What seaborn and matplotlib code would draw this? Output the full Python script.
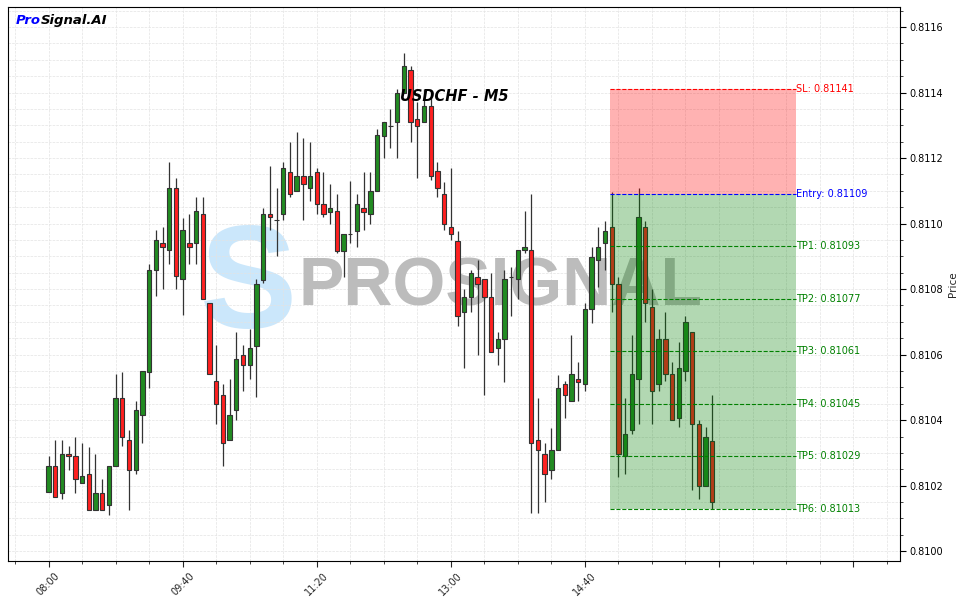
import numpy as np
import pandas as pd
import matplotlib
matplotlib.use("Agg")
import matplotlib.pyplot as plt
import seaborn as sns
from matplotlib.ticker import MultipleLocator, FixedLocator, FuncFormatter

# ---------------- data ----------------
title_text = "USDCHF - M5"
opens = [0.810180, 0.810260, 0.810179, 0.810298, 0.810289, 0.810207, 0.810237, 0.810127, 0.810179, 0.810140,
         0.810259, 0.810469, 0.810338, 0.810249, 0.810417, 0.810548, 0.810858, 0.810940, 0.810919, 0.811108,
         0.810830, 0.810940, 0.810940, 0.811029, 0.810759, 0.810519, 0.810478, 0.810339, 0.810431, 0.810598,
         0.810568, 0.810627, 0.810827, 0.811028, 0.811010, 0.811028, 0.811158, 0.811099, 0.811146, 0.811108,
         0.811158, 0.811059, 0.811036, 0.811038, 0.810917, 0.810968, 0.810978, 0.811049, 0.811028, 0.811099,
         0.811268, 0.811299, 0.811309, 0.811398, 0.811469, 0.811318, 0.811309, 0.811359, 0.811160, 0.811089,
         0.810988, 0.810947, 0.810729, 0.810776, 0.810838, 0.810830, 0.810776, 0.810619, 0.810648, 0.810838,
         0.810830, 0.810918, 0.810918, 0.810339, 0.810298, 0.810249, 0.810308, 0.810510, 0.810458, 0.810527,
         0.810509, 0.810738, 0.810889, 0.810940, 0.810988, 0.810817, 0.810290, 0.810369, 0.810527, 0.810988,
         0.810746, 0.810509, 0.810649, 0.810540, 0.810407, 0.810550, 0.810668, 0.810387, 0.810198, 0.810337]
highs = [0.810290, 0.810339, 0.810339, 0.810321, 0.810347, 0.810329, 0.810318, 0.810298, 0.810219, 0.810259,
         0.810540, 0.810548, 0.810369, 0.810458, 0.810550, 0.810878, 0.810980, 0.810988, 0.811189, 0.811138,
         0.811018, 0.811029, 0.811080, 0.811080, 0.810759, 0.810629, 0.810509, 0.810527, 0.810668, 0.810629,
         0.810677, 0.810830, 0.811049, 0.811176, 0.811108, 0.811189, 0.811248, 0.811278, 0.811260, 0.811248,
         0.811169, 0.811158, 0.811120, 0.811089, 0.810968, 0.811130, 0.811089, 0.811158, 0.811158, 0.811288,
         0.811309, 0.811349, 0.811410, 0.811520, 0.811481, 0.811372, 0.811410, 0.811398, 0.811189, 0.811128,
         0.811169, 0.810978, 0.810799, 0.810858, 0.810889, 0.810830, 0.810848, 0.810668, 0.810858, 0.810868,
         0.810918, 0.811038, 0.811089, 0.810468, 0.810329, 0.810376, 0.810537, 0.810519, 0.810660, 0.810578,
         0.810758, 0.810927, 0.810988, 0.811009, 0.811097, 0.810838, 0.810468, 0.810660, 0.811108, 0.811009,
         0.810799, 0.810677, 0.810729, 0.810578, 0.810637, 0.810718, 0.810668, 0.810400, 0.810378, 0.810478]
lows = [0.810180, 0.810166, 0.810159, 0.810249, 0.810179, 0.810207, 0.810127, 0.810127, 0.810127, 0.810110,
        0.810259, 0.810321, 0.810127, 0.810235, 0.810329, 0.810497, 0.810779, 0.810799, 0.810878, 0.810799,
        0.810721, 0.810878, 0.810878, 0.810769, 0.810540, 0.810387, 0.810260, 0.810339, 0.810400, 0.810489,
        0.810527, 0.810471, 0.810820, 0.810980, 0.810901, 0.811011, 0.811082, 0.811099, 0.811011, 0.811069,
        0.811028, 0.811021, 0.810998, 0.810909, 0.810838, 0.810940, 0.810927, 0.810980, 0.810998, 0.811099,
        0.811199, 0.811230, 0.811199, 0.811398, 0.811250, 0.811138, 0.811309, 0.811133, 0.811080, 0.810980,
        0.810950, 0.810688, 0.810558, 0.810729, 0.810598, 0.810478, 0.810609, 0.810568, 0.810517, 0.810718,
        0.810769, 0.810909, 0.810118, 0.810118, 0.810151, 0.810220, 0.810308, 0.810407, 0.810458, 0.810458,
        0.810489, 0.810697, 0.810807, 0.810858, 0.810729, 0.810227, 0.810237, 0.810359, 0.810387, 0.810698,
        0.810387, 0.810489, 0.810519, 0.810400, 0.810378, 0.810519, 0.810188, 0.810158, 0.810198, 0.810128]
closes = [0.810260, 0.810166, 0.810298, 0.810289, 0.810220, 0.810228, 0.810127, 0.810179, 0.810127, 0.810259,
          0.810469, 0.810347, 0.810249, 0.810430, 0.810550, 0.810858, 0.810950, 0.810927, 0.811108, 0.810840,
          0.810980, 0.810927, 0.811038, 0.810769, 0.810540, 0.810448, 0.810329, 0.810417, 0.810588, 0.810568,
          0.810619, 0.810817, 0.811028, 0.811019, 0.811010, 0.811169, 0.811089, 0.811146, 0.811120, 0.811146,
          0.811059, 0.811028, 0.811049, 0.810917, 0.810968, 0.810968, 0.811059, 0.811036, 0.811099, 0.811269,
          0.811309, 0.811299, 0.811398, 0.811481, 0.811309, 0.811299, 0.811359, 0.811146, 0.811108, 0.810998,
          0.810967, 0.810718, 0.810776, 0.810848, 0.810817, 0.810776, 0.810609, 0.810648, 0.810830, 0.810838,
          0.810918, 0.810927, 0.810329, 0.810308, 0.810237, 0.810308, 0.810497, 0.810478, 0.810540, 0.810517,
          0.810738, 0.810899, 0.810927, 0.810978, 0.810817, 0.810298, 0.810359, 0.810540, 0.811019, 0.810759,
          0.810489, 0.810649, 0.810540, 0.810400, 0.810558, 0.810698, 0.810387, 0.810198, 0.810347, 0.810149]

tick_positions = [0, 20, 40, 60, 80, 100, 120]
tick_labels = ["08:00", "09:40", "11:20", "13:00", "14:40", "", ""]

entry_price = 0.81109
stop_loss = 0.81141
take_profits = [0.81093, 0.81077, 0.81061, 0.81045, 0.81029, 0.81013]
tp_names = ["TP1", "TP2", "TP3", "TP4", "TP5", "TP6"]

# ---------------- style ----------------
sns.set_theme(style="white")
plt.rcParams["font.family"] = ["DejaVu Sans"]

df = pd.DataFrame({"open": opens, "high": highs, "low": lows, "close": closes})
df["pos"] = np.arange(len(df))
df["up"] = df["close"] >= df["open"]
df["bottom"] = df[["open", "close"]].min(axis=1)
df["height"] = (df["close"] - df["open"]).abs()

fig = plt.figure(figsize=(9.63, 6.03), dpi=100)
ax = fig.add_axes([8 / 963, 42 / 603, 892 / 963, 554 / 603])

# watermark
ax.text(0.27, 0.49, "S", transform=ax.transAxes, fontsize=105, fontweight="bold",
        family="Liberation Sans", color="#cbe7fb", ha="center", va="center", zorder=0.5)
ax.text(0.552, 0.493, "PROSIGNAL", transform=ax.transAxes, fontsize=49, fontweight="bold",
        family="Liberation Sans", color="#bcbcbc", ha="center", va="center", zorder=0.6)

# candles
ax.vlines(df["pos"], df["low"], df["high"], color="#333333", linewidth=0.9, zorder=2)
colors = np.where(df["up"], "#228b22", "#ff2020")
ax.bar(df["pos"], df["height"], bottom=df["bottom"], width=0.65, color=colors,
       edgecolor="#333333", linewidth=0.8, zorder=3)

# trade box
x0, x1 = 83.7, 111.5
ax.fill_between([x0, x1], entry_price, stop_loss, color="red", alpha=0.3, linewidth=0, zorder=4)
ax.fill_between([x0, x1], take_profits[-1], entry_price, color="green", alpha=0.3, linewidth=0, zorder=4)
ax.hlines(stop_loss, x0, x1, colors="red", linestyles="--", linewidth=0.8, zorder=5)
ax.text(x1, stop_loss, f"SL: {stop_loss:.5f}", color="red", fontsize=7, va="center", ha="left", zorder=6)
ax.hlines(entry_price, x0, x1, colors="blue", linestyles="--", linewidth=0.8, zorder=5)
ax.text(x1, entry_price, f"Entry: {entry_price:.5f}", color="blue", fontsize=7, va="center", ha="left", zorder=6)
for name, tp in zip(tp_names, take_profits):
    ax.hlines(tp, x0, x1, colors="green", linestyles="--", linewidth=0.8, zorder=5)
    ax.text(x1, tp, f"{name}: {tp:.5f}", color="green", fontsize=7, va="center", ha="left", zorder=6)

# axes
ax.set_xlim(-6.05, 127)
ax.set_ylim(0.809970, 0.811661)
ax.yaxis.tick_right()
ax.yaxis.set_label_position("right")
ax.set_ylabel("Price", fontsize=7.5, labelpad=3)
ax.yaxis.set_major_locator(MultipleLocator(0.0002))
ax.yaxis.set_minor_locator(MultipleLocator(0.00005))
ax.yaxis.set_major_formatter(FuncFormatter(lambda v, p: f"{v:.4f}"))
ax.xaxis.set_major_locator(FixedLocator(tick_positions))
ax.set_xticklabels(tick_labels)
ax.xaxis.set_minor_locator(MultipleLocator(5))
ax.tick_params(axis="y", which="major", right=True, length=4, width=0.8, labelsize=7, pad=3, colors="black")
ax.tick_params(axis="y", which="minor", right=True, length=2, width=0.6)
ax.tick_params(axis="x", which="major", bottom=True, length=4, width=0.8, labelsize=7, rotation=45, pad=3)
ax.tick_params(axis="x", which="minor", bottom=True, length=2, width=0.6)
ax.grid(which="both", color="#e3e3e3", linestyle="--", linewidth=0.5, zorder=0)
ax.set_axisbelow(True)
for s in ax.spines.values():
    s.set_visible(True)
    s.set_color("black")
    s.set_linewidth(0.8)

# titles
ax.text(0.5, 0.838, title_text, transform=ax.transAxes, fontsize=10.5, fontweight="bold",
        fontstyle="italic", ha="center", va="center", color="black", zorder=7)
t1 = ax.text(0.009, 0.987, "Pro", transform=ax.transAxes, fontsize=9.5, fontweight="bold",
             fontstyle="italic", color="blue", ha="left", va="top", zorder=7)
ax.annotate("Signal.AI", xy=(1, 0), xycoords=t1, fontsize=9.5, fontweight="bold",
            fontstyle="italic", color="black", ha="left", va="bottom", zorder=7)

fig.savefig("out.png", dpi=100)
